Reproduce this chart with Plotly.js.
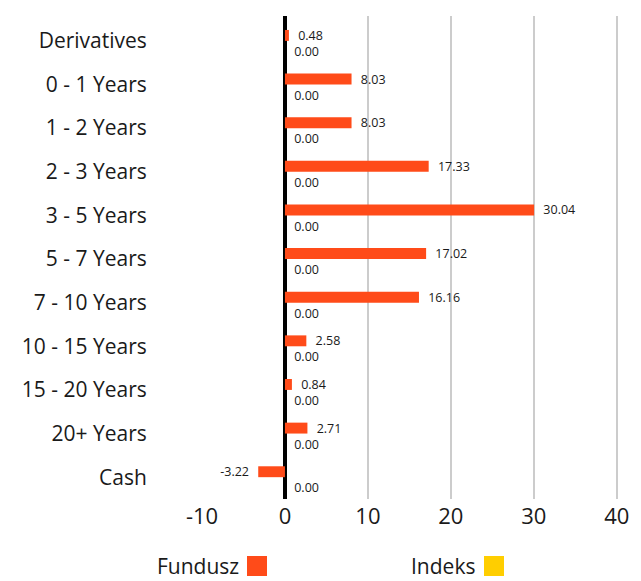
<!DOCTYPE html>
<html>
<head>
<meta charset="utf-8">
<script src="https://cdn.plot.ly/plotly-3.0.1.min.js"></script>
<style>html,body{margin:0;padding:0;background:#fff;}#chart{width:641px;height:581px;}</style>
</head>
<body>
<div id="chart"></div>
<script>
const categories = ["Derivatives","0 - 1 Years","1 - 2 Years","2 - 3 Years","3 - 5 Years","5 - 7 Years","7 - 10 Years","10 - 15 Years","15 - 20 Years","20+ Years","Cash"];
const fundusz = [0.48, 8.03, 8.03, 17.33, 30.04, 17.02, 16.16, 2.58, 0.84, 2.71, -3.22];
const indeks = [0.00, 0.00, 0.00, 0.00, 0.00, 0.00, 0.00, 0.00, 0.00, 0.00, 0.00];
const seriesNames = ["Fundusz", "Indeks"];
const xTicks = [-10, 0, 10, 20, 30, 40];

const colF = "#FF4B19", colI = "#FFCE00";
const fontFam = "Open Sans, Noto Sans, sans-serif";
const pad = "\u2002";
const lbl = v => v < 0 ? v.toFixed(2) + pad : pad + v.toFixed(2);

const traces = [
  {type:"bar", orientation:"h", name:seriesNames[0], y:categories, x:fundusz,
   width:0.25, offset:-0.25,
   marker:{color:colF}, text:fundusz.map(lbl), textposition:"outside", constraintext:"none",
   textfont:{size:12.5, color:"#1a1a1a", family:fontFam}, cliponaxis:false, showlegend:false},
  {type:"bar", orientation:"h", name:seriesNames[1], y:categories, x:indeks,
   width:0.25, offset:0.12,
   marker:{color:colI}, text:indeks.map(lbl), textposition:"outside", constraintext:"none",
   textfont:{size:12.5, color:"#1a1a1a", family:fontFam}, cliponaxis:false, showlegend:false}
];

const PH = 483, PW = 423;
const legY = -(566-499)/PH;
const layout = {
  width:641, height:581,
  margin:{l:202, r:16, t:16, b:82},
  paper_bgcolor:"#fff", plot_bgcolor:"#fff",
  barmode:"group",
  font:{family:fontFam, color:"#1a1a1a"},
  xaxis:{range:[-10, 41], tickvals:xTicks, ticktext:xTicks.map(String),
    showgrid:true, gridcolor:"#cccccc", gridwidth:2,
    zeroline:true, zerolinecolor:"#000", zerolinewidth:4,
    showline:false, ticks:"", tickfont:{size:22, color:"#1a1a1a"}, ticklabelstandoff:2, fixedrange:true},
  yaxis:{range:[10.5, -0.57], showgrid:false, zeroline:false,
    showline:true, linecolor:"#fff", linewidth:4,
    ticks:"", tickfont:{size:21, color:"#1a1a1a"}, ticklabelstandoff:47, fixedrange:true},
  annotations:[
    {xref:"paper", yref:"paper", x:(241-202)/PW, y:legY, xanchor:"right", yanchor:"middle",
     text:seriesNames[0], showarrow:false, font:{size:21, color:"#1a1a1a", family:fontFam}},
    {xref:"paper", yref:"paper", x:(477-202)/PW, y:legY, xanchor:"right", yanchor:"middle",
     text:seriesNames[1], showarrow:false, font:{size:21, color:"#1a1a1a", family:fontFam}}
  ],
  shapes:[
    {type:"rect", xref:"paper", yref:"paper", x0:(247-202)/PW, x1:(267-202)/PW,
     y0:-(576-499)/PH, y1:-(556-499)/PH, fillcolor:colF, line:{width:0}},
    {type:"rect", xref:"paper", yref:"paper", x0:(484-202)/PW, x1:(504-202)/PW,
     y0:-(576-499)/PH, y1:-(556-499)/PH, fillcolor:colI, line:{width:0}}
  ]
};

Plotly.newPlot("chart", traces, layout, {displayModeBar:false, staticPlot:true});
</script>
</body>
</html>
